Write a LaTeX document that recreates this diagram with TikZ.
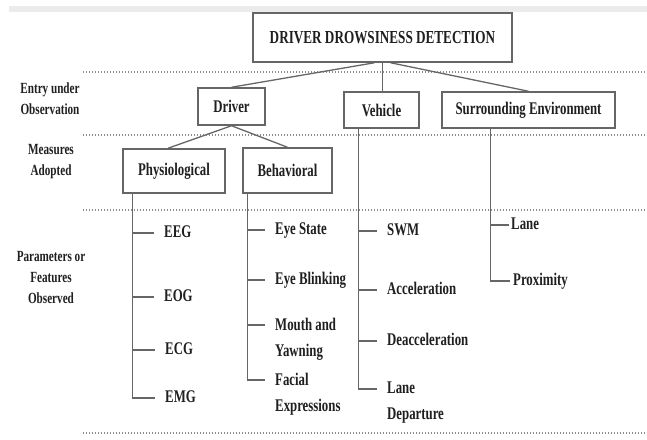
\documentclass[tikz,border=0pt]{standalone}
\usepackage{fontspec}
\setmainfont{Liberation Serif}
\newfontfamily\lab{Liberation Serif}[FakeStretch=0.72]
\begin{document}
\begin{tikzpicture}[x=1pt,y=-1pt,
  txt/.style={text=black!88, inner sep=0pt},
  box/.style={draw=black!60, line width=1.5pt, txt, font=\lab\bfseries\fontsize{17.8}{19}\selectfont},
  item/.style={txt, anchor=west, text height=12pt, text depth=3pt, font=\lab\bfseries\fontsize{17.8}{19}\selectfont},
  item2/.style={txt, anchor=north west, align=left, font=\lab\bfseries\fontsize{17.8}{26}\selectfont},
  side/.style={txt, align=center, font=\lab\bfseries\fontsize{15.5}{21}\selectfont},
  conn/.style={draw=black!60, line width=1.3pt},
  sep/.style={draw=black!45, line width=1.4pt, dash pattern=on 1.2pt off 1.8pt}]
\useasboundingbox (0,0) rectangle (647,439);
\fill[black!8] (9,6) rectangle (647,12);
% separators
\foreach \yy in {72,135,210,433} \draw[sep] (83,\yy) -- (647,\yy);
% side labels
\node[side] (l1) at (50,99) {Entry under\\Observation};
\node[side] (l2) at (51,162) {Measures\\Adopted};
\node[side] (l3) at (51,277) {Parameters or\\Features\\Observed};
% boxes
\node[box, minimum width=259pt, minimum height=49pt, font=\lab\bfseries\fontsize{18.3}{19}\selectfont] (title) at (382.5,37.5) {DRIVER DROWSINESS DETECTION};
\node[box, minimum width=67pt, minimum height=37pt] (driver) at (231.5,106.5) {Driver};
\node[box, minimum width=75pt, minimum height=36pt] (vehicle) at (381.5,110) {Vehicle};
\node[box, minimum width=173pt, minimum height=36pt] (surr) at (528.5,110) {Surrounding Environment};
\node[box, minimum width=102pt, minimum height=44pt] (phys) at (174,171) {Physiological};
\node[box, minimum width=89pt, minimum height=45pt] (behav) at (287.5,170.5) {Behavioral};
% top connectors
\draw[conn] ([xshift=-8pt]title.south) -- (driver.north);
\draw[conn] (title.south) -- (title.south |- vehicle.north);
\draw[conn] ([xshift=8pt]title.south) -- (surr.north);
\draw[conn] (driver.south) -- ([xshift=-6pt]phys.north);
\draw[conn] (driver.south) -- (behav.north);
% spines
\coordinate (pv) at ([xshift=10pt]phys.south west);
\coordinate (bv) at ([xshift=5pt]behav.south west);
\coordinate (vv) at ([xshift=15pt]vehicle.south west);
\coordinate (sv) at ([xshift=49pt]surr.south west);
% physiological items
\node[item] (eeg) at (164,233) {EEG};
\node[item] (eog) at (164,297) {EOG};
\node[item] (ecg) at (165,350) {ECG};
\node[item] (emg) at (165,398) {EMG};
\foreach \n in {eeg,eog,ecg,emg} \draw[conn] (pv |- \n.west) -- ([xshift=-10pt]\n.west);
\draw[conn] (pv) -- (pv |- emg.west);
% behavioral items
\node[item] (eye) at (275,230) {Eye State};
\node[item] (blink) at (275,280) {Eye Blinking};
\node[item2] (mouth) at (275,318) {Mouth and\\Yawning};
\node[item2] (facial) at (275,373) {Facial\\Expressions};
\foreach \n in {eye,blink} \draw[conn] (bv |- \n.west) -- ([xshift=-10pt]\n.west);
\draw[conn] ([yshift=-7pt]mouth.north west -| bv) -- ([xshift=-10pt,yshift=-7pt]mouth.north west);
\draw[conn] ([yshift=-7pt]facial.north west -| bv) -- ([xshift=-10pt,yshift=-7pt]facial.north west);
\draw[conn] (bv) -- ([yshift=-7pt]facial.north west -| bv);
% vehicle items
\node[item] (swm) at (387,231) {SWM};
\node[item] (acc) at (387,290) {Acceleration};
\node[item] (dec) at (387,341) {Deacceleration};
\node[item2] (lane) at (387,382) {Lane\\Departure};
\foreach \n in {swm,acc,dec} \draw[conn] (vv |- \n.west) -- ([xshift=-10pt]\n.west);
\draw[conn] ([yshift=-7pt]lane.north west -| vv) -- ([xshift=-10pt,yshift=-7pt]lane.north west);
\draw[conn] (vehicle.south -| vv) -- ([yshift=-7pt]lane.north west -| vv);
% surrounding items
\node[item] (slane) at (511,225) {Lane};
\node[item] (prox) at (513,281) {Proximity};
\draw[conn] (sv |- slane.west) -- ([xshift=-2pt]slane.west);
\draw[conn] (sv |- prox.west) -- ([xshift=-3pt]prox.west);
\draw[conn] (sv) -- (sv |- prox.west);
\end{tikzpicture}
\end{document}
